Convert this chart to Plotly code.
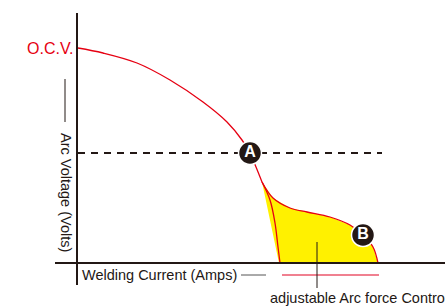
import plotly.graph_objects as go

# Data (chart units: current on x, voltage on y; origin at axis crossing)
main_current = [1, 26, 60, 93, 126, 150, 165, 173, 179, 185]
main_voltage = [215, 210, 200, 183, 161, 141, 123, 110, 96, 81]

outer_current = [185, 196, 213, 230, 253, 273, 286, 296, 301]
outer_voltage = [81, 65, 55, 51, 46, 38, 28, 16, 0]

inner_current = [185, 193, 198, 201, 203]
inner_voltage = [81, 63, 40, 16, 0]

point_labels = ["<b>A</b>", "<b>B</b>"]
point_current = [173, 286]
point_voltage = [110, 28]

ocv_voltage = 215
dash_level = 110
dash_end = 305

RED = "#E60012"
DARK = "#231815"
YELLOW = "#FFF100"

fig = go.Figure()

# yellow fill region: straight left edge, bottom, outer curve
fill_x = [outer_current[0], inner_current[-1] - 1] + outer_current[::-1]
fill_y = [outer_voltage[0], inner_voltage[-1]] + outer_voltage[::-1]
fig.add_trace(go.Scatter(x=fill_x, y=fill_y, mode="lines", fill="toself",
                         fillcolor=YELLOW, line=dict(width=0), hoverinfo="skip"))

# dashed level line
fig.add_trace(go.Scatter(x=[1, dash_end], y=[dash_level, dash_level], mode="lines",
                         line=dict(color=DARK, width=2, dash="7px,6px"), hoverinfo="skip"))

# curves
for cx, cy in [(main_current, main_voltage), (outer_current, outer_voltage),
               (inner_current, inner_voltage)]:
    fig.add_trace(go.Scatter(x=cx, y=cy, mode="lines", line=dict(color=RED, width=1.3, shape="spline"),
                             hoverinfo="skip"))

# axes lines
fig.add_trace(go.Scatter(x=[0, 0], y=[-22, 250], mode="lines", line=dict(color=DARK, width=2), hoverinfo="skip"))
fig.add_trace(go.Scatter(x=[-22, 368], y=[0, 0], mode="lines", line=dict(color=DARK, width=2), hoverinfo="skip"))

# y label leader line
fig.add_trace(go.Scatter(x=[-12, -12], y=[184, 141], mode="lines", line=dict(color=DARK, width=1), hoverinfo="skip"))
# x label trailing line
fig.add_trace(go.Scatter(x=[164, 189], y=[-12, -12], mode="lines", line=dict(color="#555555", width=1), hoverinfo="skip"))
# adjustable range underline
fig.add_trace(go.Scatter(x=[205, 302], y=[-12, -12], mode="lines", line=dict(color="#F08090", width=2), hoverinfo="skip"))
# pointer line
fig.add_trace(go.Scatter(x=[240, 240], y=[21, -25], mode="lines", line=dict(color=DARK, width=1), hoverinfo="skip"))

# markers A, B
fig.add_trace(go.Scatter(x=point_current, y=point_voltage, mode="markers+text",
                         marker=dict(size=23, color=DARK, line=dict(color="white", width=1.5)),
                         text=point_labels, textposition="middle center",
                         textfont=dict(color="white", size=16, family="Liberation Sans"),
                         hoverinfo="skip"))

fig.add_annotation(x=-1, y=ocv_voltage, text="O.C.V.", showarrow=False, xanchor="right", yanchor="middle",
                   font=dict(color=RED, size=16, family="Liberation Sans"))
fig.add_annotation(x=3, y=-12, text="Welding Current (Amps)", showarrow=False, xanchor="left", yanchor="middle",
                   font=dict(color=DARK, size=14.5, family="Liberation Sans"))
fig.add_annotation(x=-11, y=71, text="Arc Voltage (Volts)", showarrow=False, textangle=90,
                   xanchor="center", yanchor="middle",
                   font=dict(color=DARK, size=14.5, family="Liberation Sans"))
fig.add_annotation(x=191, y=-35, text="adjustable Arc force Control", showarrow=False, xanchor="left",
                   yanchor="middle", font=dict(color=DARK, size=14.5, family="Liberation Sans"))

fig.update_layout(width=445, height=306, margin=dict(l=0, r=0, t=0, b=0),
                  paper_bgcolor="white", plot_bgcolor="white", showlegend=False,
                  xaxis=dict(range=[-77, 368], visible=False, fixedrange=True),
                  yaxis=dict(range=[-43, 263], visible=False, fixedrange=True))

fig.write_html("out.html", config={"displayModeBar": False},
               post_script="document.body.style.margin='0';document.body.style.overflow='hidden';")
